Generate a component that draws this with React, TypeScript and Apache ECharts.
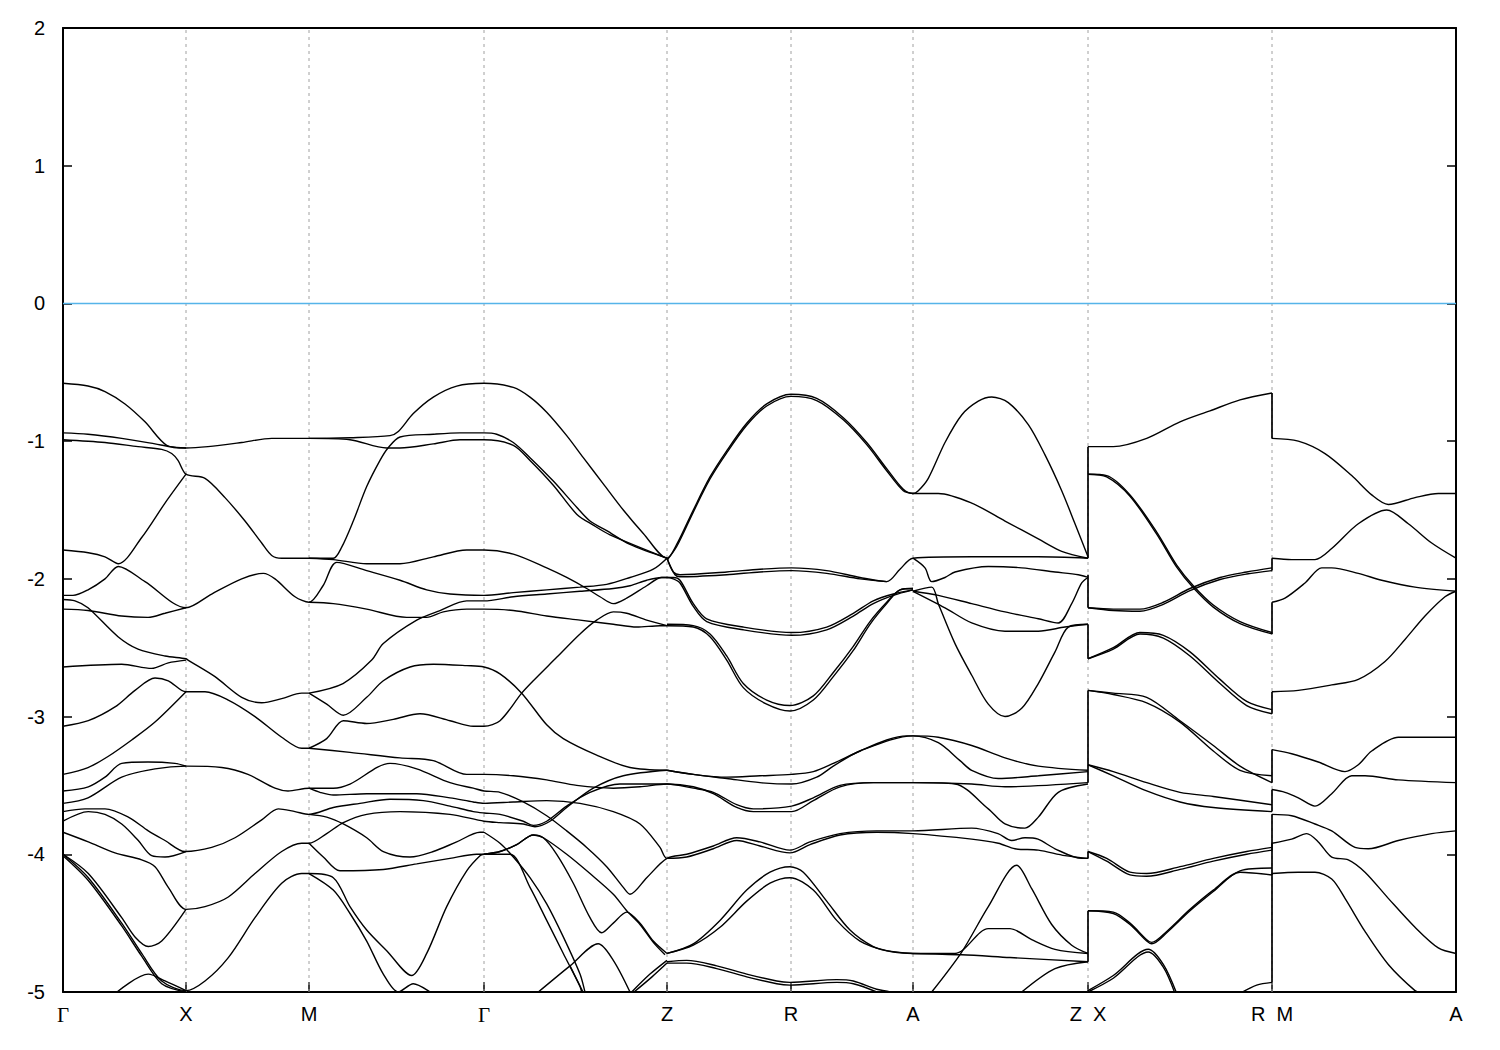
import React, { useEffect, useRef } from 'react';
import * as echarts from 'echarts';

// High-symmetry k-path positions and labels
const kPoints = [0, 123, 246, 421, 604, 728, 850, 1025, 1209, 1393];
const kLabels = ['Γ', 'X', 'M', 'Γ', 'Z', 'R', 'A', 'Z\u00a0\u00a0X', 'R\u00a0\u00a0M', 'A'];
const energyTicks = [-5, -4, -3, -2, -1, 0, 1, 2];
const fermiLevel = 0;

// Bands from Γ through X, M, Γ, Z, R, A to Z (each curve: [k, E])
const upperBands: number[][][] = [
  [[0,-0.58],[25,-0.60],[42,-0.64],[62,-0.73],[82,-0.86],[103.7,-1.03],[123,-1.05],[145,-1.04],[178.7,-1.01],[208.7,-0.98],[246,-0.98],[287,-0.975],[327,-0.96],[335.3,-0.93],[350.3,-0.80],[370.3,-0.68],[393.7,-0.60],[421,-0.58],[450.3,-0.61],[467,-0.68],[483.7,-0.79],[503.7,-0.96],[520.3,-1.12],[540.3,-1.31],[560.3,-1.50],[580.3,-1.67],[604,-1.85],[613.7,-1.75],[630.3,-1.50],[647,-1.26],[663.7,-1.07],[683.7,-0.87],[703.7,-0.73],[728,-0.66],[753.7,-0.69],[780.3,-0.83],[803.7,-1.01],[823.7,-1.20],[840.3,-1.35],[850,-1.38],[855.3,-1.36],[865.3,-1.27],[882,-1.01],[898.7,-0.81],[915.3,-0.71],[928.7,-0.68],[945.3,-0.72],[965.3,-0.88],[982,-1.10],[998.7,-1.36],[1012,-1.60],[1025,-1.84]],
  [[604,-1.865],[613.7,-1.765],[630.3,-1.515],[647,-1.275],[663.7,-1.085],[683.7,-0.885],[703.7,-0.745],[728,-0.675],[753.7,-0.705],[780.3,-0.845],[803.7,-1.025],[823.7,-1.215],[840.3,-1.36],[850,-1.38]],
  [[0,-0.94],[25,-0.95],[58.7,-0.98],[92,-1.02],[107,-1.04],[123,-1.05]],
  [[0,-0.99],[42,-1.01],[75,-1.04],[98.7,-1.06],[108.7,-1.09],[115,-1.14],[123,-1.24],[142,-1.27],[162,-1.41],[182,-1.58],[198.7,-1.74],[208.7,-1.83],[218.7,-1.85],[246,-1.85],[270.3,-1.85],[278.7,-1.77],[290.3,-1.58],[303.7,-1.33],[317,-1.14],[325,-1.05],[337,-0.97],[370.3,-0.95],[397,-0.94],[421,-0.94],[433.7,-0.95],[450.3,-1.01],[467,-1.12],[490.3,-1.29],[513.7,-1.48],[527,-1.58],[543.7,-1.65],[567,-1.75],[604,-1.85]],
  [[246,-0.98],[287,-0.99],[323.7,-1.05],[337,-1.05],[370.3,-1.02],[397,-0.99],[421,-0.99],[450.3,-1.03],[467,-1.14],[490.3,-1.32],[513.7,-1.53],[530.3,-1.61],[547,-1.68],[604,-1.85]],
  [[0,-1.79],[25.3,-1.81],[42,-1.84],[55.3,-1.89],[78.7,-1.70],[102,-1.45],[123,-1.24]],
  [[0,-2.12],[10,-2.12],[25,-2.08],[42,-2.0],[55.3,-1.91],[82,-2.02],[123,-2.21],[148.7,-2.11],[178.7,-2.0],[200.3,-1.96],[212,-2.0],[232,-2.13],[246,-2.17],[260,-2.05],[273.7,-1.88],[303.7,-1.94],[337,-2.01],[363.7,-2.08],[387,-2.11],[421,-2.12],[450.3,-2.10],[483.7,-2.08],[517,-2.06],[543.7,-2.04],[567,-1.99],[590.3,-1.93],[604,-1.85]],
  [[0,-2.15],[12,-2.16],[25,-2.21],[55,-2.42],[75,-2.51],[102,-2.56],[123,-2.58],[125,-2.59],[152,-2.71],[178.7,-2.86],[198.7,-2.90],[218.7,-2.87],[238.7,-2.83],[246,-2.83]],
  [[246,-2.83],[280,-2.76],[308.7,-2.59],[320.3,-2.47],[353.7,-2.30],[377,-2.23],[403.7,-2.16],[421,-2.16],[450.3,-2.13],[483.7,-2.11],[517,-2.09],[550.3,-2.07],[567,-2.05],[583.7,-2.01],[598.7,-1.99],[604,-1.99],[610.3,-1.99],[617,-2.01],[630.3,-2.18],[643.7,-2.29],[680.3,-2.35],[728.7,-2.39],[763.7,-2.35],[790.3,-2.25],[810.3,-2.16],[830.3,-2.11],[850,-2.08]],
  [[246,-1.85],[270.3,-1.86],[303.7,-1.89],[337,-1.89],[370.3,-1.84],[403.7,-1.79],[421,-1.79],[450.3,-1.82],[483.7,-1.92],[503.7,-1.99],[523.7,-2.07],[537,-2.13],[550.3,-2.18],[563.7,-2.14],[583.7,-2.05],[598.7,-1.99],[604,-1.99],[610.3,-2.0],[617,-2.03],[630.3,-2.20],[643.7,-2.31],[680.3,-2.37],[728.7,-2.41],[763.7,-2.37],[790.3,-2.27],[810.3,-2.18],[830.3,-2.12],[850,-2.08]],
  [[0,-2.22],[25,-2.23],[58.7,-2.27],[85,-2.28],[102,-2.25],[123,-2.21]],
  [[246,-2.17],[270.3,-2.18],[303.7,-2.22],[343.7,-2.28],[363.7,-2.28],[380.3,-2.24],[403.7,-2.22],[421,-2.22],[450.3,-2.23],[483.7,-2.27],[517,-2.30],[550.3,-2.33],[573.7,-2.35],[597,-2.34],[604,-2.34]],
  [[0,-2.64],[58.7,-2.62],[88.7,-2.65],[105.3,-2.61],[123,-2.59]],
];

// Z–R–A–Z bands near the top of the valence region
const zraBands: number[][][] = [
  [[604,-1.85],[610.3,-1.95],[617,-1.97],[663.7,-1.95],[697,-1.93],[728.7,-1.92],[763.7,-1.94],[797,-1.99],[823.7,-2.02],[837,-1.93],[850,-1.85],[908.7,-1.84],[975,-1.84],[1025,-1.85]],
  [[604,-1.85],[612,-1.97],[617,-1.985],[663.7,-1.97],[697,-1.95],[728.7,-1.94],[763.7,-1.96],[797,-2.0],[823.7,-2.02]],
  [[604,-2.34],[630.3,-2.35],[647,-2.42],[663.7,-2.59],[680.3,-2.79],[703.7,-2.91],[727,-2.96],[750.3,-2.88],[770.3,-2.71],[790.3,-2.52],[807,-2.33],[823.7,-2.18],[837,-2.08],[850,-2.07]],
  [[604,-2.33],[630.3,-2.34],[647,-2.40],[663.7,-2.56],[680.3,-2.76],[703.7,-2.88],[727,-2.92],[750.3,-2.85],[770.3,-2.68],[790.3,-2.49],[807,-2.31],[823.7,-2.17],[837,-2.08],[850,-2.07]],
  [[850,-1.38],[875.3,-1.38],[908.7,-1.45],[942,-1.58],[975.3,-1.71],[998.7,-1.80],[1025,-1.85]],
  [[850,-1.85],[862,-1.92],[868.7,-2.02],[882,-1.99],[892,-1.95],[925.3,-1.91],[958.7,-1.92],[992,-1.95],[1015.3,-1.97],[1025,-1.99]],
  [[850,-2.09],[868.7,-2.06],[875.3,-2.18],[892,-2.47],[908.7,-2.70],[925.3,-2.91],[942,-3.0],[958.7,-2.94],[975.3,-2.76],[992,-2.53],[1005.3,-2.35],[1025,-2.33]],
  [[850,-2.09],[875.3,-2.12],[908.7,-2.18],[942,-2.24],[975.3,-2.29],[995.3,-2.32],[1008.7,-2.18],[1018.7,-2.03],[1025,-1.99]],
  [[850,-2.09],[882,-2.21],[908.7,-2.32],[942,-2.38],[975.3,-2.38],[1002,-2.35],[1025,-2.33]],
];

// Middle bands (about −2.6 to −4 eV)
const middleBands: number[][][] = [
  [[0,-3.07],[25.3,-3.03],[52,-2.93],[72,-2.81],[92,-2.72],[105.3,-2.74],[123,-2.82],[142,-2.82],[165.3,-2.88],[192,-3.0],[218.7,-3.15],[238.7,-3.23],[246,-3.23]],
  [[246,-3.23],[263.7,-3.16],[280.3,-3.03],[303.7,-3.05],[330.3,-3.02],[357,-2.98],[387,-3.03],[410.3,-3.07],[421,-3.07],[437,-3.03],[458.7,-2.83],[470.3,-2.74],[493.7,-2.57],[517,-2.40],[533.7,-2.30],[550.3,-2.24],[563.7,-2.25],[583.7,-2.30],[604,-2.34]],
  [[246,-3.23],[287,-3.26],[337,-3.30],[370.3,-3.32],[403.7,-3.42],[421,-3.42],[450.3,-3.43],[483.7,-3.46],[513.7,-3.50],[550.3,-3.52],[577,-3.51],[604,-3.49],[630.3,-3.51],[650.3,-3.56],[673.7,-3.66],[690.3,-3.69],[728.7,-3.69],[750.3,-3.61],[777,-3.51],[810.3,-3.48],[850,-3.48],[908.7,-3.49],[942,-3.51],[1025,-3.48]],
  [[0,-3.42],[25,-3.37],[45,-3.29],[68.7,-3.17],[92,-3.04],[123,-2.82]],
  [[0,-3.54],[25.3,-3.51],[42,-3.44],[58.7,-3.34],[85,-3.33],[112,-3.34],[123,-3.36]],
  [[0,-3.63],[25,-3.59],[58.7,-3.44],[92,-3.38],[123,-3.36],[158.7,-3.37],[185,-3.42],[212,-3.52],[225,-3.54],[246,-3.52],[270.3,-3.52],[287,-3.49],[327,-3.34],[353.7,-3.38],[387,-3.48],[410.3,-3.52],[421,-3.54],[437,-3.55],[460.3,-3.62],[483.7,-3.72],[503.7,-3.83],[523.7,-3.95],[543.7,-4.09],[560.3,-4.24],[567,-4.29],[583.7,-4.17],[604,-4.03],[623.7,-4.0],[650.3,-3.94],[673.7,-3.88],[697,-3.91],[727,-3.97],[747,-3.91],[777,-3.85],[813.7,-3.83],[850,-3.83],[908.7,-3.81],[935,-3.85],[948.7,-3.90],[962,-3.88],[975,-3.89],[992,-3.96],[1018.7,-4.03],[1025,-4.03]],
  [[0,-3.69],[22,-3.67],[42,-3.67],[65.3,-3.73],[85.3,-3.83],[102,-3.90],[122,-3.98],[148.7,-3.95],[172,-3.88],[198.7,-3.75],[215.3,-3.67],[232,-3.69],[246,-3.71],[270.3,-3.66],[297,-3.63],[327,-3.60],[360.3,-3.61],[387,-3.65],[410.3,-3.69],[421,-3.70],[437,-3.71],[460.3,-3.76],[470.3,-3.79],[483.7,-3.76],[503.7,-3.65],[527,-3.55],[557,-3.49],[604,-3.49],[630.3,-3.52],[650.3,-3.55],[673.7,-3.64],[690.3,-3.67],[728.7,-3.65],[750.3,-3.59],[777,-3.50],[810.3,-3.48],[850,-3.48],[892,-3.49],[925.3,-3.67],[942,-3.78],[962,-3.81],[975.3,-3.73],[995.3,-3.55],[1025,-3.49]],
  [[604,-3.39],[630.3,-3.42],[663.7,-3.44],[697,-3.43],[728.7,-3.42],[750.3,-3.40],[770.3,-3.34],[797,-3.25],[823.7,-3.17],[843.7,-3.14],[850,-3.14],[875.3,-3.15],[908.7,-3.21],[942,-3.30],[975.3,-3.36],[1025,-3.39]],
  [[604,-3.39],[630.3,-3.42],[663.7,-3.45],[697,-3.48],[728.7,-3.49],[753.7,-3.44],[770.3,-3.36],[797,-3.25],[850,-3.14],[875.3,-3.19],[897,-3.32],[908.7,-3.39],[935.3,-3.45],[975.3,-3.43],[1025,-3.40]],
  [[246,-2.83],[263.7,-2.91],[280.3,-2.99],[303.7,-2.86],[320.3,-2.74],[347,-2.64],[370.3,-2.62],[403.7,-2.63],[421,-2.64],[437,-2.69],[458.7,-2.83],[483.7,-3.06],[500.3,-3.16],[533.7,-3.28],[567,-3.37],[604,-3.39]],
  [[0,-3.84],[25.3,-3.91],[52,-3.99],[78.7,-4.04],[92,-4.09],[105.3,-4.24],[123,-4.40],[142,-4.38],[165.3,-4.31],[192,-4.14],[218.7,-3.98],[238.7,-3.92],[246,-3.92],[263.7,-3.85],[280.3,-3.77],[303.7,-3.71],[337,-3.69],[387,-3.71],[421,-3.76],[437,-3.77],[460.3,-3.78],[472,-3.80],[487,-3.76],[503.7,-3.66],[530.3,-3.52],[560.3,-3.43],[604,-3.39]],
  [[0,-3.76],[25.3,-3.69],[42,-3.71],[58.7,-3.78],[75.3,-3.90],[88.7,-4.01],[102,-4.02],[123,-3.98]],
  [[246,-3.52],[257,-3.55],[270.3,-3.57],[303.7,-3.56],[353.7,-3.56],[387,-3.59],[410.3,-3.62],[421,-3.63],[450.3,-3.62],[483.7,-3.61],[517,-3.63],[550.3,-3.69],[577,-3.78],[597,-3.95],[604,-4.03],[623.7,-4.02],[650.3,-3.96],[673.7,-3.90],[697,-3.94],[727,-3.99],[747,-3.93],[777,-3.86],[813.7,-3.84],[850,-3.85],[908.7,-3.89],[935.3,-3.92],[952,-3.96],[975.3,-3.97],[1002,-4.01],[1025,-4.03]],
  [[246,-3.71],[263.7,-3.73],[280.3,-3.78],[303.7,-3.88],[320.3,-3.98],[347,-4.02],[370.3,-3.98],[393.7,-3.91],[417,-3.84],[421,-3.84]],
  [[246,-3.92],[260.3,-4.02],[277,-4.12],[320.3,-4.11],[353.7,-4.07],[387,-4.03],[413.7,-4.0],[421,-4.0]],
];

// Lower bands (about −4 to −5 eV)
const lowerBands: number[][][] = [
  [[0,-4.0],[25.3,-4.14],[58.7,-4.46],[72,-4.60],[85.3,-4.67],[98.7,-4.63],[123,-4.40]],
  [[0,-4.0],[25.3,-4.17],[58.7,-4.50],[78.7,-4.72],[98.7,-4.92],[123,-4.99],[142,-4.92],[165.3,-4.75],[192,-4.46],[218.7,-4.21],[238.7,-4.14],[246,-4.14]],
  [[0,-4.01],[25.3,-4.19],[58.7,-4.52],[78.7,-4.74],[98.7,-4.94],[123,-5.0]],
  [[54,-5.0],[85.3,-4.87],[102,-4.92],[123,-4.99]],
  [[246,-4.14],[270.3,-4.26],[287,-4.43],[303.7,-4.63],[320.3,-4.87],[335.3,-5.0],[350.3,-4.94],[367,-5.0],[377,-5.06]],
  [[246,-4.14],[270.3,-4.17],[287,-4.38],[303.7,-4.55],[323.7,-4.70],[348.7,-4.88],[363.7,-4.72],[383.7,-4.38],[403.7,-4.12],[417,-4.01],[421,-4.0]],
  [[421,-3.84],[437,-3.92],[450.3,-4.02],[467,-4.17],[483.7,-4.36],[500.3,-4.60],[517,-4.87],[522,-5.0],[524,-5.06]],
  [[421,-4.0],[437,-3.98],[453.7,-3.93],[470.3,-3.86],[480.3,-3.88],[493.7,-4.0],[510.3,-4.21],[527,-4.46],[538.7,-4.57],[550.3,-4.50],[563.7,-4.42],[577,-4.50],[590.3,-4.63],[604,-4.72]],
  [[421,-4.0],[437,-3.98],[453.7,-3.93],[470.3,-3.86],[480.3,-3.88],[503.7,-4.0],[527,-4.14],[550.3,-4.29],[563.7,-4.41],[577,-4.51],[590.3,-4.64],[602,-4.73]],
  [[421,-4.0],[447,-4.0],[467,-4.24],[483.7,-4.48],[500.3,-4.72],[517,-4.96],[520,-5.03]],
  [[475.3,-5.0],[507,-4.81],[535.3,-4.65],[550.3,-4.77],[567,-5.0]],
  [[507,-4.81],[520,-5.0]],
  [[568.7,-5.0],[587,-4.87],[604,-4.77]],
  [[571,-5.0],[589,-4.89],[604,-4.79]],
  [[604,-4.72],[630.3,-4.65],[657,-4.48],[683.7,-4.26],[707,-4.13],[727,-4.09],[740.3,-4.13],[763.7,-4.34],[787,-4.55],[810.3,-4.67],[830.3,-4.71],[850,-4.72],[892,-4.72],[925.3,-4.54],[947,-4.54],[968.7,-4.62],[992,-4.69],[1025,-4.72]],
  [[604,-4.72],[630.3,-4.66],[657,-4.53],[683.7,-4.34],[707,-4.21],[727,-4.17],[750.3,-4.26],[773.7,-4.48],[797,-4.63],[823.7,-4.70],[850,-4.72]],
  [[604,-4.78],[623.7,-4.77],[653.7,-4.81],[683.7,-4.87],[713.7,-4.92],[727,-4.93],[773.7,-4.91],[790.3,-4.92],[813.7,-4.98],[827,-5.0],[832,-5.03]],
  [[604,-4.79],[623.7,-4.79],[653.7,-4.83],[683.7,-4.89],[713.7,-4.94],[727,-4.95],[773.7,-4.93],[790.3,-4.94],[813.7,-5.0],[820,-5.03]],
  [[868.7,-5.0],[898.7,-4.71],[925.3,-4.38],[953.7,-4.08],[968.7,-4.25],[988.7,-4.51],[1008.7,-4.66],[1025,-4.72]],
  [[850,-4.72],[898.7,-4.73],[947,-4.75],[1025,-4.78]],
  [[958.7,-5.0],[992,-4.83],[1025,-4.78]],
];

// X–R segment
const xrBands: number[][][] = [
  [[1025,-1.04],[1050.3,-1.04],[1083.7,-0.98],[1117,-0.86],[1147,-0.78],[1177,-0.70],[1209,-0.65]],
  [[1025,-1.24],[1043.7,-1.25],[1067,-1.39],[1093.7,-1.66],[1113.7,-1.90],[1130.3,-2.05],[1150.3,-2.19],[1177,-2.31],[1209,-2.39]],
  [[1025,-1.24],[1043.7,-1.26],[1067,-1.40],[1093.7,-1.675],[1113.7,-1.915],[1130.3,-2.065],[1150.3,-2.205],[1177,-2.325],[1209,-2.40]],
  [[1025,-2.21],[1050.3,-2.22],[1077,-2.22],[1100.3,-2.17],[1127,-2.07],[1157,-1.99],[1183.7,-1.95],[1209,-1.92]],
  [[1025,-2.21],[1050.3,-2.23],[1077,-2.235],[1100.3,-2.185],[1127,-2.085],[1157,-2.005],[1183.7,-1.965],[1209,-1.94]],
  [[1025,-2.58],[1050.3,-2.50],[1077,-2.39],[1100.3,-2.41],[1127,-2.53],[1157,-2.73],[1183.7,-2.89],[1209,-2.95]],
  [[1025,-2.58],[1050.3,-2.51],[1077,-2.40],[1100.3,-2.43],[1127,-2.56],[1157,-2.76],[1183.7,-2.92],[1209,-2.98]],
  [[1025,-2.81],[1050.3,-2.84],[1083.7,-2.90],[1117,-3.04],[1150.3,-3.25],[1177,-3.39],[1209,-3.43]],
  [[1025,-2.81],[1050.3,-2.83],[1083.7,-2.86],[1117,-3.03],[1150.3,-3.21],[1177,-3.36],[1209,-3.48]],
  [[1025,-3.35],[1050.3,-3.40],[1083.7,-3.48],[1117,-3.55],[1150.3,-3.58],[1209,-3.64]],
  [[1025,-3.35],[1050.3,-3.43],[1083.7,-3.54],[1117,-3.62],[1150.3,-3.66],[1209,-3.69]],
  [[1025,-3.98],[1043.7,-4.03],[1067,-4.13],[1083.7,-4.14],[1117,-4.09],[1150.3,-4.03],[1183.7,-3.98],[1209,-3.95]],
  [[1025,-3.98],[1043.7,-4.05],[1067,-4.15],[1083.7,-4.16],[1117,-4.11],[1150.3,-4.05],[1183.7,-4.0],[1209,-3.97]],
  [[1025,-4.41],[1050.3,-4.42],[1067,-4.50],[1083.7,-4.62],[1088.7,-4.64],[1103.7,-4.56],[1127,-4.40],[1150.3,-4.26],[1177,-4.13],[1209,-4.15]],
  [[1025,-4.41],[1050.3,-4.43],[1067,-4.51],[1083.7,-4.63],[1088.7,-4.65],[1103.7,-4.57],[1127,-4.41],[1150.3,-4.27],[1177,-4.12],[1209,-4.10]],
  [[1025,-4.99],[1050.3,-4.88],[1085.3,-4.69],[1100.3,-4.80],[1113.7,-5.01]],
  [[1025,-5.0],[1050.3,-4.90],[1085.3,-4.71],[1100.3,-4.82],[1112,-5.01]],
  [[1177,-5.01],[1193.7,-4.95],[1209,-4.93]],
];

// M–A segment
const maBands: number[][][] = [
  [[1209,-0.98],[1235.3,-1.0],[1262,-1.09],[1288.7,-1.25],[1308.7,-1.39],[1325.3,-1.46],[1352,-1.41],[1375.3,-1.38],[1393,-1.38]],
  [[1209,-1.85],[1228.7,-1.86],[1252,-1.86],[1268.7,-1.78],[1295.3,-1.60],[1323.7,-1.50],[1345.3,-1.60],[1368.7,-1.74],[1393,-1.85]],
  [[1209,-2.17],[1222,-2.14],[1242,-2.03],[1258.7,-1.92],[1268.7,-1.92],[1295.3,-1.96],[1318.7,-2.01],[1352,-2.06],[1393,-2.09]],
  [[1209,-2.82],[1235.3,-2.81],[1268.7,-2.77],[1295.3,-2.73],[1322,-2.60],[1342,-2.44],[1362,-2.27],[1382,-2.13],[1393,-2.09]],
  [[1209,-3.24],[1228.7,-3.27],[1255.3,-3.33],[1282,-3.40],[1295.3,-3.35],[1308.7,-3.25],[1335.3,-3.15],[1355.3,-3.15],[1393,-3.15]],
  [[1209,-3.53],[1222,-3.55],[1235.3,-3.59],[1252,-3.65],[1268.7,-3.56],[1288.7,-3.43],[1302,-3.43],[1335.3,-3.46],[1393,-3.48]],
  [[1209,-3.71],[1228.7,-3.72],[1252,-3.78],[1268.7,-3.83],[1292,-3.95],[1305.3,-3.96],[1335.3,-3.90],[1368.7,-3.85],[1393,-3.83]],
  [[1209,-3.92],[1228.7,-3.89],[1243.7,-3.85],[1255.3,-3.91],[1268.7,-4.02],[1285.3,-4.04],[1302,-4.13],[1325.3,-4.32],[1352,-4.53],[1375.3,-4.68],[1393,-4.72]],
  [[1209,-4.14],[1235.3,-4.13],[1252,-4.13],[1268.7,-4.18],[1282,-4.32],[1302,-4.56],[1325.3,-4.80],[1352,-4.99],[1358.7,-5.01],[1362,-5.03]],
];

// Vertical jumps at the path discontinuities Z|X and R|M: [k, E_top, E_bottom]
const pathJumps: number[][] = [
  [1025,-1.04,-1.85],[1025,-1.97,-2.21],[1025,-2.33,-2.58],[1025,-2.81,-3.48],[1025,-3.98,-4.03],[1025,-4.41,-4.78],[1025,-4.99,-5.05],
  [1209,-0.65,-0.98],[1209,-1.85,-1.94],[1209,-2.17,-2.40],[1209,-2.82,-2.98],[1209,-3.24,-3.48],[1209,-3.53,-3.69],[1209,-3.71,-3.97],[1209,-3.92,-4.15],[1209,-4.14,-4.93],
];

const FONT = '"Liberation Sans", Arial, Helvetica, sans-serif';

export default function App() {
  const ref = useRef<HTMLDivElement>(null);

  useEffect(() => {
    if (!ref.current) return;
    const chart = echarts.init(ref.current, undefined, { renderer: 'svg' });
    const kMin = kPoints[0];
    const kMax = kPoints[kPoints.length - 1];
    const eMin = energyTicks[0];
    const eMax = energyTicks[energyTicks.length - 1];

    const series: any[] = [];

    kPoints.slice(1, -1).forEach((k) => {
      series.push({
        type: 'line',
        data: [[k, eMin], [k, eMax]],
        symbol: 'none',
        silent: true,
        z: 1,
        lineStyle: { color: '#a0a0a0', width: 1, type: [3, 4] },
      });
    });

    series.push({
      type: 'line',
      data: [[kMin, fermiLevel], [kMax, fermiLevel]],
      symbol: 'none',
      silent: true,
      z: 2,
      lineStyle: { color: '#56b4e9', width: 1.6 },
    });

    const allBands = [...upperBands, ...zraBands, ...middleBands, ...lowerBands, ...xrBands, ...maBands];
    allBands.forEach((curve) => {
      series.push({
        type: 'line',
        data: curve,
        symbol: 'none',
        smooth: 0.3,
        silent: true,
        clip: true,
        z: 3,
        lineStyle: { color: '#000', width: 1.4 },
      });
    });

    pathJumps.forEach(([k, e1, e2]) => {
      series.push({
        type: 'line',
        data: [[k, e1], [k, e2]],
        symbol: 'none',
        silent: true,
        clip: true,
        z: 3,
        lineStyle: { color: '#000', width: 1.7 },
      });
    });

    const option: any = {
      animation: false,
      backgroundColor: '#fff',
      grid: { left: 63, right: 44, top: 28, bottom: 58, containLabel: false },
      xAxis: [
        {
          type: 'value',
          min: kMin,
          max: kMax,
          position: 'bottom',
          axisLine: { show: true, onZero: false, lineStyle: { color: '#000', width: 2 } },
          axisTick: { show: true, inside: true, length: 10, customValues: kPoints, lineStyle: { color: '#000', width: 1.5 } },
          axisLabel: {
            show: true,
            customValues: kPoints,
            hideOverlap: false,
            margin: 12,
            fontSize: 20,
            color: '#000',
            fontFamily: FONT,
            formatter: (v: number) => {
              const i = kPoints.indexOf(v);
              const t = i >= 0 ? kLabels[i] : '';
              return t === 'Γ' ? '{g|Γ}' : t;
            },
            rich: { g: { fontFamily: '"Liberation Serif", "DejaVu Serif", serif', fontSize: 21, color: '#000' } },
          },
          splitLine: { show: false },
        },
        {
          type: 'value',
          min: kMin,
          max: kMax,
          position: 'top',
          axisLine: { show: true, onZero: false, lineStyle: { color: '#000', width: 2 } },
          axisTick: { show: false },
          axisLabel: { show: false },
          splitLine: { show: false },
        },
      ],
      yAxis: [
        {
          type: 'value',
          min: eMin,
          max: eMax,
          interval: 1,
          position: 'left',
          axisLine: { show: true, onZero: false, lineStyle: { color: '#000', width: 2 } },
          axisTick: { show: true, inside: true, length: 9, lineStyle: { color: '#000', width: 1.5 } },
          axisLabel: { margin: 18, fontSize: 20, color: '#000', fontFamily: FONT },
          splitLine: { show: false },
        },
        {
          type: 'value',
          min: eMin,
          max: eMax,
          interval: 1,
          position: 'right',
          axisLine: { show: true, onZero: false, lineStyle: { color: '#000', width: 2 } },
          axisTick: { show: true, inside: true, length: 9, lineStyle: { color: '#000', width: 1.5 } },
          axisLabel: { show: false },
          splitLine: { show: false },
        },
      ],
      series,
    };

    chart.setOption(option);
    return () => chart.dispose();
  }, []);

  return (
    <div
      ref={ref}
      style={{ position: 'fixed', left: 0, top: 0, width: 1500, height: 1050, background: '#fff' }}
    />
  );
}
